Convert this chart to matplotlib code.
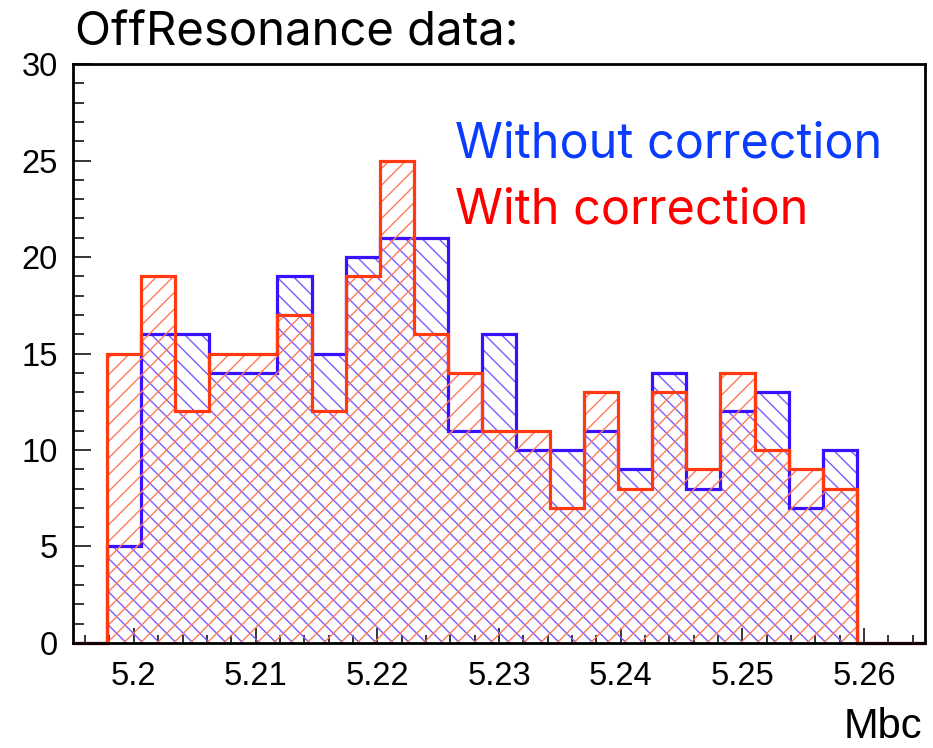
import numpy as np
import matplotlib
matplotlib.use("Agg")
import matplotlib.pyplot as plt
from matplotlib.ticker import MultipleLocator, FixedLocator

# Histogram binning for Mbc
x_low, x_high, n_bins = 5.195, 5.265, 25
edges = np.linspace(x_low, x_high, n_bins + 1)

# Bin contents (first bin and last two bins are empty)
without_corr = [0, 5, 16, 16, 14, 14, 19, 15, 20, 21, 21, 11, 16, 10, 10, 11,
                9, 14, 8, 12, 13, 7, 10, 0, 0]
with_corr = [0, 15, 19, 12, 15, 15, 17, 12, 19, 25, 16, 14, 11, 11, 7, 13,
             8, 13, 9, 14, 10, 9, 8, 0, 0]

x_ticks = [5.20, 5.21, 5.22, 5.23, 5.24, 5.25, 5.26]
x_tick_labels = ["5.2", "5.21", "5.22", "5.23", "5.24", "5.25", "5.26"]
y_ticks = [0, 5, 10, 15, 20, 25, 30]

blue_line = "#3a10ff"
blue_hatch = "#7a5cff"
red_line = "#ff3a10"
red_hatch = "#ff7a5c"

plt.rcParams["hatch.linewidth"] = 1.0

fig = plt.figure(figsize=(9.33, 7.48), dpi=100)
ax = fig.add_axes([0.0782, 0.1404, 0.9914 - 0.0782, 0.9144 - 0.1404])

# hatched areas and outlines
ax.stairs(without_corr, edges, fill=True, facecolor="none", edgecolor=blue_hatch,
          hatch="\\\\", linewidth=0, zorder=2)
ax.stairs(without_corr, edges, fill=False, color=blue_line, linewidth=2.3,
          baseline=0, zorder=3, clip_on=False)
ax.stairs(with_corr, edges, fill=True, facecolor="none", edgecolor=red_hatch,
          hatch="//", linewidth=0, zorder=4)
ax.stairs(with_corr, edges, fill=False, color=red_line, linewidth=2.3,
          baseline=0, zorder=5, clip_on=False)

ax.set_xlim(x_low, x_high)
ax.set_ylim(0, 30)

ax.xaxis.set_major_locator(FixedLocator(x_ticks))
ax.set_xticklabels(x_tick_labels)
ax.xaxis.set_minor_locator(MultipleLocator(0.002))
ax.yaxis.set_major_locator(FixedLocator(y_ticks))
ax.yaxis.set_minor_locator(MultipleLocator(1))

tick_font = "Liberation Sans"
for lab in ax.get_xticklabels() + ax.get_yticklabels():
    lab.set_fontfamily(tick_font)
    lab.set_fontsize(23.5)

ax.tick_params(axis="x", which="major", direction="in", length=11, width=1.1,
               pad=13, top=False)
ax.tick_params(axis="x", which="minor", direction="in", length=6, width=1.1,
               top=False)
ax.tick_params(axis="y", which="major", direction="in", length=13, width=1.1,
               pad=11, right=False)
ax.tick_params(axis="y", which="minor", direction="in", length=8, width=1.1,
               right=False)

for sp in ax.spines.values():
    sp.set_linewidth(2.0)
    sp.set_zorder(6)

fig.text(75 / 933, 1 - 46 / 748, "OffResonance data:", fontfamily="Inter",
         fontsize=34, ha="left", va="baseline", color="black")

fig.text(455 / 933, 1 - 158 / 748, "Without correction", fontfamily="Inter",
         fontsize=35, ha="left", va="baseline", color="#0a3cff")
fig.text(455 / 933, 1 - 223 / 748, "With correction", fontfamily="Inter",
         fontsize=35, ha="left", va="baseline", color="#ff0000")

fig.text(922 / 933, 1 - 738 / 748, "Mbc", fontfamily=tick_font,
         fontsize=30, ha="right", va="baseline", color="black")

fig.savefig("out.png", dpi=100)
